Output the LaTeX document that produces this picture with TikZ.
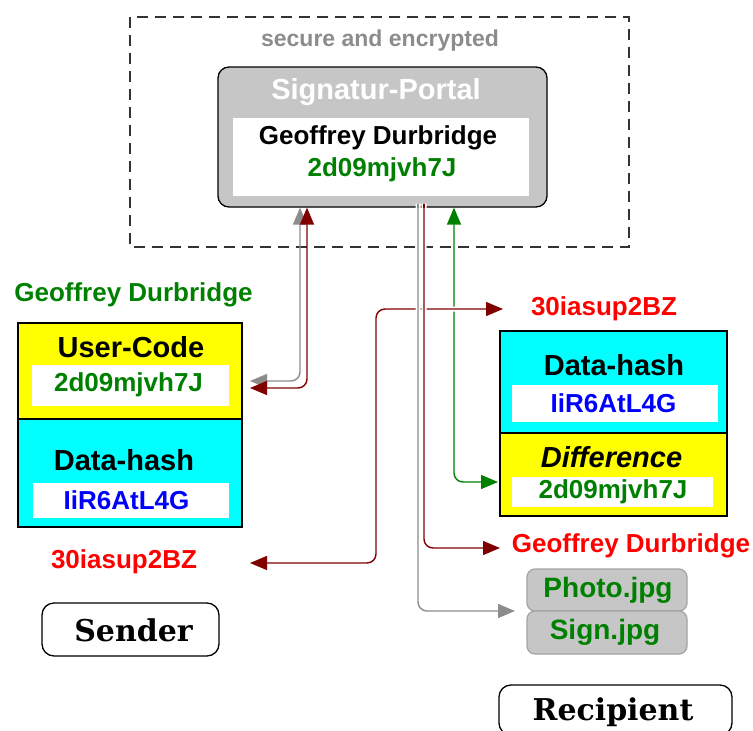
\documentclass[tikz,border=0pt]{standalone}
\usepackage{fontspec}
\setmainfont{Liberation Sans}
\newfontfamily\slabfont{DejaVu Serif}
\usetikzlibrary{arrows.meta}
\definecolor{pgrey}{HTML}{C6C6C6}
\definecolor{dred}{HTML}{800000}
\definecolor{lgreen}{HTML}{008000}
\definecolor{lgrey}{HTML}{8C8C8C}
\definecolor{lblue}{HTML}{0000FF}
\definecolor{lred}{HTML}{FF0000}
\definecolor{lyel}{HTML}{FFFF00}
\definecolor{lcyan}{HTML}{00FFFF}
\newcommand\myfs[1]{\fontsize{#1}{#1}\selectfont}
\begin{document}
\begin{tikzpicture}[x=1pt,y=-1pt,
  txt/.style={inner sep=0pt, font=\bfseries\myfs{26}},
  box/.style={draw=black, line width=1.3pt, inner sep=0pt},
  whitebox/.style={fill=white, inner sep=0pt},
  rbox/.style={draw=black, line width=1.3pt, rounded corners=12pt, inner sep=0pt},
  filebox/.style={draw=lgrey!80, line width=1.2pt, fill=pgrey, rounded corners=8pt, inner sep=0pt, minimum width=160pt},
  conn/.style={line width=1.4pt, rounded corners=9pt},
  halo/.style={preaction={draw=white, line width=5pt, arrows=-}},
  both/.style={{Triangle[length=17pt,width=14pt]}-{Triangle[length=17pt,width=14pt]}},
  endarr/.style={-{Triangle[length=17pt,width=14pt]}}]
\useasboundingbox (0,0) rectangle (753,731);
\fill[white] (0,0) rectangle (753,731);

% secure area
\draw[line width=1.3pt, draw=black!80, dash pattern=on 11pt off 7pt] (130,17) rectangle (629,247);
\node[txt, text=lgrey, font=\bfseries\myfs{23}] (secure) at (380,41) {secure and encrypted};

% portal
\node[box, fill=pgrey, rounded corners=11pt, minimum width=329pt, minimum height=140pt] (portal) at (382.5,137) {};
\node[txt, text=white, font=\bfseries\myfs{29}] (ptitle) at (376,92) {Signatur-Portal};
\node[whitebox, minimum width=296pt, minimum height=78pt] (pinner) at (381,157) {};
\node[txt] (pname) at (378,138) {Geoffrey Durbridge};
\node[txt, text=lgreen] (pcode) at (382,170) {2d09mjvh7J};

% sender side
\node[txt, text=lgreen] (sname) at (133.5,295) {Geoffrey Durbridge};
\node[box, fill=lyel, minimum width=224pt, minimum height=96pt] (uc) at (130,371) {};
\node[txt, font=\bfseries\myfs{29}] (uctitle) at (131,347) {User-Code};
\node[whitebox, minimum width=197pt, minimum height=41pt] (ucw) at (130.5,385.5) {};
\node[txt, text=lgreen] (uccode) at (128.5,385) {2d09mjvh7J};
\node[box, fill=lcyan, minimum width=224pt, minimum height=108pt] (dh) at (130,473) {};
\node[txt, font=\bfseries\myfs{29}] (dhtitle) at (124,460) {Data-hash};
\node[whitebox, minimum width=196pt, minimum height=35pt] (dhw) at (131,500.5) {};
\node[txt, text=lblue] (dhcode) at (126.5,500) {IiR6AtL4G};
\node[txt, text=lred] (skey) at (124,562) {30iasup2BZ};
\node[rbox, minimum width=177pt, minimum height=53pt] (sender) at (130.5,629.5) {};
\node[inner sep=0pt, font=\slabfont\bfseries\myfs{30}] (sendertxt) at (133.5,630) {Sender};

% recipient side
\node[txt, text=lred] (rkey) at (604,309) {30iasup2BZ};
\node[box, fill=lcyan, minimum width=227pt, minimum height=102pt] (rdh) at (613.5,382) {};
\node[txt, font=\bfseries\myfs{29}] (rdhtitle) at (614,365) {Data-hash};
\node[whitebox, minimum width=206pt, minimum height=37pt] (rdhw) at (615,403.5) {};
\node[txt, text=lblue] (rdhcode) at (613.5,403) {IiR6AtL4G};
\node[box, fill=lyel, minimum width=227pt, minimum height=83pt] (rdiff) at (613.5,474.5) {};
\node[txt, font=\bfseries\itshape\myfs{29}] (rdifftitle) at (611.5,457) {Difference};
\node[whitebox, minimum width=201pt, minimum height=30pt] (rdiffw) at (612.5,492) {};
\node[txt, text=lgreen] (rdiffcode) at (613,492) {2d09mjvh7J};
\node[txt, text=lred] (rname) at (631,546) {Geoffrey Durbridge};
\node[filebox, minimum height=42pt] (photo) at (607,590) {};
\node[txt, text=lgreen, font=\bfseries\myfs{28}] (phototxt) at (608,590) {Photo.jpg};
\node[filebox, minimum height=43pt] (sign) at (607,632.5) {};
\node[txt, text=lgreen, font=\bfseries\myfs{28}] (signtxt) at (605,632) {Sign.jpg};
\node[rbox, minimum width=233pt, minimum height=50pt] (recip) at (615.5,710) {};
\node[inner sep=0pt, font=\slabfont\bfseries\myfs{30}] (reciptxt) at (613,712) {Recipient};

% connector coordinates
\coordinate (xg1) at (300,0);
\coordinate (xr1) at (307,0);
\coordinate (xg2) at (418,0);
\coordinate (xr2) at (424,0);
\coordinate (xgr) at (454,0);
\coordinate (ucg) at (250,381);
\coordinate (ucr) at (250,388);
\coordinate (skeyend) at (250,563);
\coordinate (rkeyend) at (503,309);
\coordinate (rnameend) at (500,548);
\coordinate (fileend) at (515,611);
\coordinate (diffend) at (498,482);

% connectors
\draw[conn, both, lgrey] (portal.south -| xg1) -- (xg1 |- ucg) -- (ucg);
\draw[conn, both, dred] (portal.south -| xr1) -- (xr1 |- ucr) -- (ucr);
\draw[conn, both, lgreen] (portal.south -| xgr) -- (xgr |- diffend) -- (diffend);
\draw[conn, both, dred, halo] (skeyend) -- (376,563) -- (376,309) -- (rkeyend);
\draw[conn, endarr, lgrey, halo] ([yshift=4pt]portal.south -| xg2) -- (xg2 |- fileend) -- (fileend);
\draw[conn, endarr, dred, halo] ([yshift=4pt]portal.south -| xr2) -- (xr2 |- rnameend) -- (rnameend);
\draw[line width=1.4pt, lgrey] (portal.south -| xg2) -- ([yshift=4pt]portal.south -| xg2);
\draw[line width=1.4pt, dred] (portal.south -| xr2) -- ([yshift=4pt]portal.south -| xr2);
\end{tikzpicture}
\end{document}
